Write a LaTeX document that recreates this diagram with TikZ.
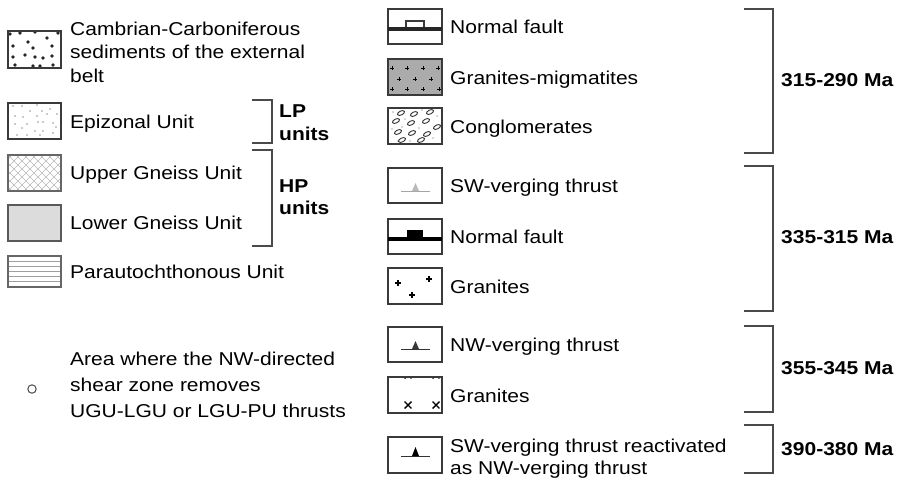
\documentclass[tikz,border=0pt]{standalone}
\usepackage{fontspec}
\setmainfont{Liberation Sans}[FakeStretch=1.13]
\definecolor{boxc}{HTML}{3A3A3A}
\definecolor{brc}{HTML}{4A4A4A}
\definecolor{lgray}{HTML}{DCDCDC}
\definecolor{mgray}{HTML}{ABABAB}
\begin{document}
\begin{tikzpicture}[x=1pt,y=-1pt,
  box/.style={draw=boxc, line width=1.5pt},
  lbl/.style={anchor=base west, inner sep=0pt, font=\fontsize{18.6}{22}\selectfont},
  blbl/.style={anchor=base west, inner sep=0pt, font=\fontsize{18.6}{22}\selectfont\bfseries},
  brk/.style={draw=brc, line width=1.5pt},
  hatch/.style={draw=gray!55, line width=0.6pt},
  plusmark/.style={draw=black, line width=1pt}]
\useasboundingbox[fill=white] (0,0) rectangle (909,488);

% ---------- left column ----------
% Cambrian-Carboniferous
\foreach \p in {(20,33),(35,32),(58,33),(28,42),(47,38),(13,46),(33,48),(52,46),(13,57),(25,55),(35,57),(43,58),(52,56),(15,65),(33,66),(40,66),(53,65),(10,34)}
  \fill[black!85] \p circle (1.9);
\draw[box] (8,31) rectangle (61,68);
\node[lbl] (t1a) at (70,35) {Cambrian-Carboniferous};
\node[lbl] (t1b) at (70,58) {sediments of the external};
\node[lbl] (t1c) at (70,82) {belt};

% Epizonal
\foreach \p in {(13,106),(22,106),(37,105),(15,116),(30,111),(42,111),(50,109),(23,117),(37,116),(47,114),(57,114),(15,124),(27,124),(38,122),(43,122),(53,123),(35,131),(43,131),(53,133),(17,135),(27,135),(40,135),(22,128),(56,127)}
  \fill[gray!80] \p circle (0.9);
\draw[box] (8,103) rectangle (61,139);
\node[lbl] (t2) at (70,128) {Epizonal Unit};

% Upper Gneiss
\begin{scope}
\clip (8,155) rectangle (61,191);
\foreach \i in {-48,-40,...,56} {
  \draw[hatch] (8+\i,155) -- ++(36,36);
  \draw[hatch] (8+\i,191) -- ++(36,-36);
}
\end{scope}
\draw[box,draw=gray!80!black] (8,155) rectangle (61,191);
\node[lbl] (t3) at (70,179) {Upper Gneiss Unit};

% Lower Gneiss
\draw[box, fill=lgray, draw=gray!70!black] (8,205) rectangle (61,241);
\node[lbl] (t4) at (70,229) {Lower Gneiss Unit};

% Parautochthonous
\foreach \y in {261.5,266.5,271.5,276.5,281.5}
  \draw[gray!75, line width=0.8pt] (8,\y) -- (61,\y);
\draw[box,draw=gray!80!black] (8,256) rectangle (61,287);
\node[lbl] (t5) at (70,278) {Parautochthonous Unit};

% LP / HP brackets
\draw[brk] (252,100) -- (272,100) -- (272,143) -- (252,143);
\node[blbl] (lp1) at (279,117) {LP};
\node[blbl] (lp2) at (279,140) {units};
\draw[brk] (252,150) -- (272,150) -- (272,246) -- (252,246);
\node[blbl] (hp1) at (279,192) {HP};
\node[blbl] (hp2) at (279,214) {units};

% circle area
\draw[gray!60!black, line width=1pt] (32,389) circle (4.2);
\node[lbl] (a1) at (70,365) {Area where the NW-directed};
\node[lbl] (a2) at (70,391) {shear zone removes};
\node[lbl] (a3) at (70,417) {UGU-LGU or LGU-PU thrusts};

% ---------- right column ----------
% Normal fault (open)
\draw[box] (388,9) rectangle (442,44);
\draw[boxc, line width=1.3pt] (406,29) rectangle (424,21);
\draw[black!85, line width=3.4pt] (388,29) -- (442,29);
\node[lbl] (r1) at (450,33) {Normal fault};

% Granites-migmatites
\fill[mgray] (388,59) rectangle (442,95);
\foreach \p in {(392,68),(407,68),(423,68),(438,68),(399,79),(415,79),(431,79),(392,89),(407,89),(423,89),(439,89)}
  \draw[plusmark] \p ++(-1.8,0) -- ++(3.6,0) \p ++(0,-1.8) -- ++(0,3.6);
\draw[box] (388,59) rectangle (442,95);
\node[lbl] (r2) at (450,84) {Granites-migmatites};

% Conglomerates
\foreach \p in {(393,112),(422,110),(437,116),(405,119),(419,128),(392,129),(433,138),(410,141),(402,127),(398,141)}
  \fill[gray!60] \p circle (0.8);
\foreach \p in {(401,113),(414,114),(430,112),(396,121),(411,123),(426,121),(437,127),(398,132),(412,133),(427,134),(402,140),(421,140)}
  \draw[black!80, line width=0.9pt, rotate around={25:\p}] \p ellipse (3.8 and 2);
\draw[box] (388,108) rectangle (442,144);
\node[lbl] (r3) at (450,133) {Conglomerates};

% SW-verging thrust
\draw[box] (388,168) rectangle (442,203);
\draw[gray!70, line width=1pt] (401,191) -- (430,191);
\fill[gray!55] (412,191) -- (415.5,183) -- (419,191) -- cycle;
\node[lbl] (r4) at (450,192) {SW-verging thrust};

% Normal fault (filled)
\draw[box] (388,219) rectangle (442,254);
\fill[black] (407,239) rectangle (423,230);
\draw[black, line width=3.6pt] (388,239) -- (442,239);
\node[lbl] (r5) at (450,243) {Normal fault};

% Granites (+)
\draw[box] (388,268) rectangle (442,304);
\foreach \p in {(398,283),(429,279),(412,295)}
  \draw[black, line width=1.1pt] \p ++(-3,0) -- ++(6,0) \p ++(0,-3) -- ++(0,6);
\node[lbl] (r6) at (450,293) {Granites};

% NW-verging thrust
\draw[box] (388,327) rectangle (442,362);
\draw[gray!40!black, line width=1pt] (401,349) -- (430,349);
\fill[gray!45!black] (412,349) -- (415.5,341) -- (419,349) -- cycle;
\node[lbl] (r7) at (450,351) {NW-verging thrust};

% Granites (x)
\begin{scope}
\clip (388,377) rectangle (442,413);
\foreach \p in {(408,405),(436,405),(408,375),(436,375)}
  \draw[black, line width=1.4pt] \p ++(-3.4,-3.4) -- ++(6.8,6.8) \p ++(-3.4,3.4) -- ++(6.8,-6.8);
\end{scope}
\draw[box] (388,377) rectangle (442,413);
\node[lbl] (r8) at (450,402) {Granites};

% SW-verging thrust reactivated
\draw[box] (388,437) rectangle (442,473);
\draw[black!80, line width=1pt] (401,456) -- (430,456);
\fill[black] (412,456) -- (415.5,447) -- (419,456) -- cycle;
\node[lbl] (r9a) at (450,452) {SW-verging thrust reactivated};
\node[lbl] (r9b) at (450,474) {as NW-verging thrust};

% age brackets
\draw[brk] (744,9) -- (773,9) -- (773,153) -- (744,153);
\node[blbl] (g1) at (781,86) {315-290 Ma};
\draw[brk] (744,166) -- (773,166) -- (773,311) -- (744,311);
\node[blbl] (g2) at (781,243) {335-315 Ma};
\draw[brk] (744,326) -- (773,326) -- (773,412) -- (744,412);
\node[blbl] (g3) at (781,374) {355-345 Ma};
\draw[brk] (744,425) -- (773,425) -- (773,473) -- (744,473);
\node[blbl] (g4) at (781,455) {390-380 Ma};
\end{tikzpicture}
\end{document}
